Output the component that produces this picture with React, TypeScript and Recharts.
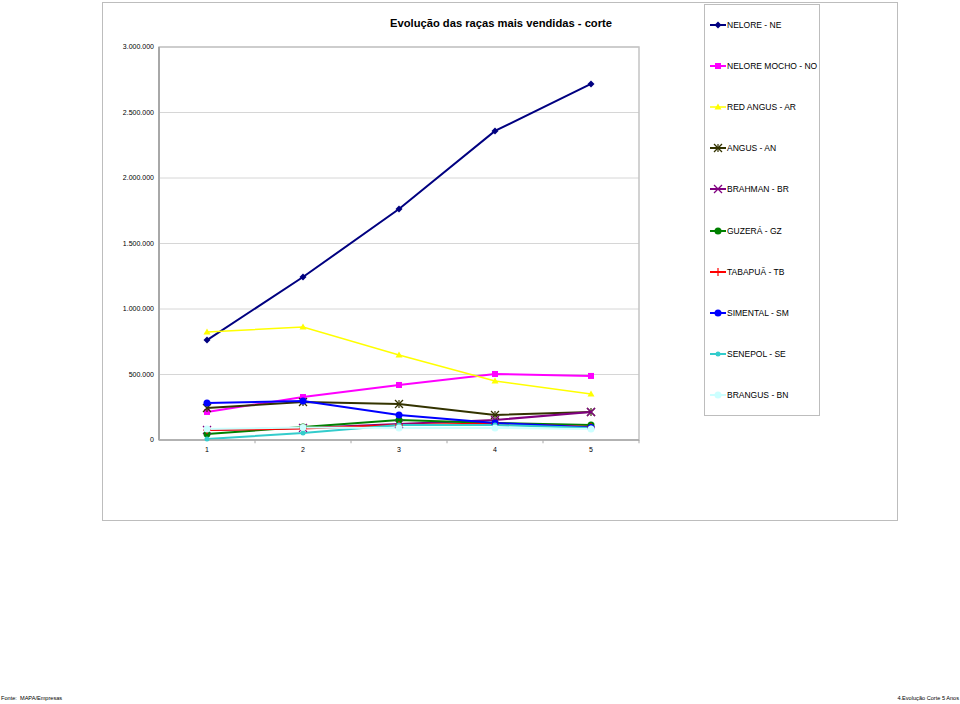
import {
  LineChart,
  Line,
  XAxis,
  YAxis,
  CartesianGrid,
  ReferenceArea,
  ReferenceLine,
} from "recharts";

const anos = [1, 2, 3, 4, 5];
const yTicks = [0, 500000, 1000000, 1500000, 2000000, 2500000, 3000000];

const neloreNE = [763000, 1244000, 1763000, 2359000, 2718000];
const neloreMochoNO = [214000, 328000, 420000, 504000, 489000];
const redAngusAR = [824000, 863000, 649000, 450000, 351000];
const angusAN = [244000, 290000, 275000, 191000, 214000];
const brahmanBR = [76000, 92000, 122000, 153000, 214000];
const guzeraGZ = [46000, 99000, 153000, 130000, 115000];
const tabapuaTB = [76000, 88000, 115000, 126000, 99000];
const simentalSM = [282000, 298000, 191000, 130000, 95000];
const senepolSE = [8000, 53000, 115000, 115000, 92000];
const brangusBN = [84000, 95000, 92000, 92000, 84000];

const series = [
  { key: "NE", name: "NELORE - NE", values: neloreNE, color: "#000080", marker: "diamond", width: 2 },
  { key: "NO", name: "NELORE MOCHO - NO", values: neloreMochoNO, color: "#FF00FF", marker: "square", width: 2 },
  { key: "AR", name: "RED ANGUS - AR", values: redAngusAR, color: "#FFFF00", marker: "triangle", width: 1.5 },
  { key: "AN", name: "ANGUS - AN", values: angusAN, color: "#333300", marker: "star", width: 2 },
  { key: "BR", name: "BRAHMAN - BR", values: brahmanBR, color: "#800080", marker: "x", width: 2 },
  { key: "GZ", name: "GUZERÁ - GZ", values: guzeraGZ, color: "#008000", marker: "circle", width: 2 },
  { key: "TB", name: "TABAPUÃ - TB", values: tabapuaTB, color: "#FF0000", marker: "plus", width: 2 },
  { key: "SM", name: "SIMENTAL - SM", values: simentalSM, color: "#0000FF", marker: "circle", width: 2 },
  { key: "SE", name: "SENEPOL - SE", values: senepolSE, color: "#33CCCC", marker: "dot", width: 2 },
  { key: "BN", name: "BRANGUS - BN", values: brangusBN, color: "#CCFFFF", marker: "circle", width: 2 },
];

const data = anos.map((ano, i) => {
  const row: Record<string, number> = { ano };
  series.forEach((s) => (row[s.key] = s.values[i]));
  return row;
});

const font = "'Liberation Sans', Arial, sans-serif";

const fmt = (v: number) => String(v).replace(/\B(?=(\d{3})+(?!\d))/g, ".");

function MarkerShape({ cx, cy, shape, color }: any) {
  if (cx == null || cy == null) return null;
  switch (shape) {
    case "diamond":
      return (
        <polygon
          points={`${cx},${cy - 3.5} ${cx + 3.5},${cy} ${cx},${cy + 3.5} ${cx - 3.5},${cy}`}
          fill={color}
        />
      );
    case "square":
      return <rect x={cx - 3} y={cy - 3} width={6} height={6} fill={color} />;
    case "triangle":
      return (
        <polygon
          points={`${cx},${cy - 3.5} ${cx + 3.5},${cy + 2.5} ${cx - 3.5},${cy + 2.5}`}
          fill={color}
        />
      );
    case "star":
      return (
        <g stroke={color} strokeWidth={1.2}>
          <line x1={cx - 4} y1={cy - 4} x2={cx + 4} y2={cy + 4} />
          <line x1={cx - 4} y1={cy + 4} x2={cx + 4} y2={cy - 4} />
          <line x1={cx} y1={cy - 4} x2={cx} y2={cy + 4} />
        </g>
      );
    case "x":
      return (
        <g stroke={color} strokeWidth={1.2}>
          <line x1={cx - 4} y1={cy - 4} x2={cx + 4} y2={cy + 4} />
          <line x1={cx - 4} y1={cy + 4} x2={cx + 4} y2={cy - 4} />
        </g>
      );
    case "plus":
      return (
        <g stroke={color} strokeWidth={1.2}>
          <line x1={cx - 4} y1={cy} x2={cx + 4} y2={cy} />
          <line x1={cx} y1={cy - 4} x2={cx} y2={cy + 4} />
        </g>
      );
    case "dot":
      return <circle cx={cx} cy={cy} r={2.5} fill={color} />;
    default:
      return <circle cx={cx} cy={cy} r={3.5} fill={color} />;
  }
}

const legendRows = [25, 66, 107, 148, 189, 230.5, 271.5, 312.5, 354, 395];

export default function App() {
  return (
    <div
      style={{
        position: "absolute",
        left: 0,
        top: 0,
        width: 960,
        height: 704,
        fontFamily: font,
        background: "#fff",
      }}
    >
      <div
        style={{
          position: "absolute",
          left: 102,
          top: 2,
          width: 794,
          height: 517,
          border: "1px solid #bdbdbd",
        }}
      />
      <div
        style={{
          position: "absolute",
          left: 0,
          width: 1002,
          top: 17,
          textAlign: "center",
          fontSize: 11.2,
          fontWeight: "bold",
          color: "#000",
        }}
      >
        Evolução das raças mais vendidas - corte
      </div>
      <div style={{ position: "absolute", left: 0, top: 0 }}>
        <LineChart
          width={960}
          height={704}
          data={data}
          margin={{ top: 47, right: 321, left: 0, bottom: 234 }}
        >
          <CartesianGrid vertical={false} stroke="#d6d6d6" />
          <ReferenceArea
            x1={0.5}
            x2={5.5}
            y1={0}
            y2={3000000}
            fill="none"
            stroke="#c4c4c4"
            strokeWidth={1.5}
          />
          <XAxis
            dataKey="ano"
            type="number"
            domain={[0.5, 5.5]}
            ticks={anos}
            height={30}
            tickLine={false}
            tickMargin={1}
            axisLine={{ stroke: "#a8a8a8", strokeWidth: 1.5 }}
            tick={{ fontSize: 7, fill: "#000", fontFamily: font }}
          />
          <YAxis
            type="number"
            domain={[0, 3000000]}
            ticks={yTicks}
            width={159}
            tickLine={false}
            tickSize={4}
            tickMargin={1}
            tickFormatter={fmt}
            axisLine={{ stroke: "#a8a8a8", strokeWidth: 2 }}
            tick={{ fontSize: 7, fill: "#000", fontFamily: font }}
          />
          {[1.5, 2.5, 3.5, 4.5, 5.5].map((b) => (
            <ReferenceLine
              key={b}
              segment={[
                { x: b, y: 0 },
                { x: b, y: -25000 },
              ]}
              stroke="#a8a8a8"
              ifOverflow="visible"
            />
          ))}
          {series.map((s) => (
            <Line
              key={s.key}
              type="linear"
              dataKey={s.key}
              name={s.name}
              stroke={s.color}
              strokeWidth={s.width}
              isAnimationActive={false}
              dot={(p: any) => (
                <MarkerShape
                  key={`${s.key}-${p.index}`}
                  cx={p.cx}
                  cy={p.cy}
                  shape={s.marker}
                  color={s.color}
                />
              )}
              activeDot={false}
            />
          ))}
        </LineChart>
      </div>
      <div
        style={{
          position: "absolute",
          left: 704,
          top: 4,
          width: 114,
          height: 410,
          border: "1px solid #bdbdbd",
          background: "transparent",
        }}
      />
      {series.map((s, i) => (
        <div
          key={s.key}
          style={{
            position: "absolute",
            left: 709,
            top: legendRows[i] - 6,
            height: 12,
            display: "flex",
            alignItems: "center",
            fontSize: 8.5,
            color: "#000",
            whiteSpace: "nowrap",
          }}
        >
          <svg width={18} height={12} style={{ display: "block" }}>
            <line x1={1} y1={6} x2={17} y2={6} stroke={s.color} strokeWidth={s.width} />
            <MarkerShape cx={9} cy={6} shape={s.marker} color={s.color} />
          </svg>
          <span>{s.name}</span>
        </div>
      ))}
      <div style={{ position: "absolute", left: 1, top: 695, fontSize: 5.6, color: "#000" }}>
        Fonte:&nbsp;&nbsp;MAPA/Empresas
      </div>
      <div
        style={{ position: "absolute", right: 1, top: 695, fontSize: 5.6, color: "#000" }}
      >
        4.Evolução Corte 5 Anos
      </div>
    </div>
  );
}
